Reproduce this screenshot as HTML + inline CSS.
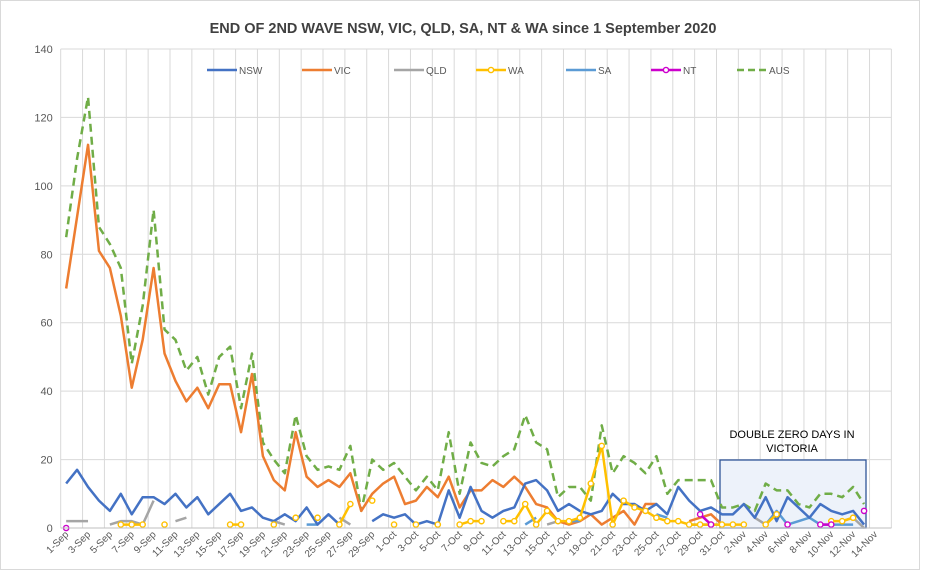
<!DOCTYPE html>
<html><head><meta charset="utf-8">
<style>
html,body{margin:0;padding:0;background:#fff;}
svg{display:block;font-family:"Liberation Sans",sans-serif;}
</style></head>
<body>
<svg id="chart" width="925" height="573" viewBox="0 0 925 573" xmlns="http://www.w3.org/2000/svg">
  <rect x="0.5" y="0.5" width="919" height="569" fill="#fff" stroke="#d9d9d9"/>
  <text x="463" y="33" text-anchor="middle" font-size="14.5" font-weight="bold" fill="#404040">END OF 2ND WAVE NSW, VIC, QLD, SA, NT &amp; WA since 1 September 2020</text>
  <g id="grid"></g>
  <rect x="720" y="460" width="146" height="68" fill="#edf2fa" stroke="#2f5597" stroke-width="1.3"/>
  <g id="series"></g>
  <g id="axes"></g>
  <text x="792" y="438" text-anchor="middle" font-size="11" fill="#000">DOUBLE ZERO DAYS IN</text>
  <text x="792" y="452" text-anchor="middle" font-size="11" fill="#000">VICTORIA</text>
  <g id="legend"></g>
</svg>
<script>
const categories = ["1-Sep","2-Sep","3-Sep","4-Sep","5-Sep","6-Sep","7-Sep","8-Sep","9-Sep","10-Sep","11-Sep","12-Sep","13-Sep","14-Sep","15-Sep","16-Sep","17-Sep","18-Sep","19-Sep","20-Sep","21-Sep","22-Sep","23-Sep","24-Sep","25-Sep","26-Sep","27-Sep","28-Sep","29-Sep","30-Sep","1-Oct","2-Oct","3-Oct","4-Oct","5-Oct","6-Oct","7-Oct","8-Oct","9-Oct","10-Oct","11-Oct","12-Oct","13-Oct","14-Oct","15-Oct","16-Oct","17-Oct","18-Oct","19-Oct","20-Oct","21-Oct","22-Oct","23-Oct","24-Oct","25-Oct","26-Oct","27-Oct","28-Oct","29-Oct","30-Oct","31-Oct","1-Nov","2-Nov","3-Nov","4-Nov","5-Nov","6-Nov","7-Nov","8-Nov","9-Nov","10-Nov","11-Nov","12-Nov","13-Nov","14-Nov"];
const yTicks = [0,20,40,60,80,100,120,140];
const N = null;
const nswValues = [13,17,12,8,5,10,4,9,9,7,10,6,9,4,7,10,5,6,3,2,4,2,6,1,4,1,N,N,2,4,3,4,1,2,1,11,3,12,5,3,5,6,13,14,11,5,7,5,4,5,10,7,7,5,7,4,12,8,5,6,4,4,7,3,9,2,9,6,3,7,5,4,5,1];
const vicValues = [70,91,112,81,76,62,41,55,76,51,43,37,41,35,42,42,28,45,21,14,11,28,15,12,14,12,16,5,10,13,15,7,8,12,9,15,6,11,11,14,12,15,12,7,6,2,1,2,4,1,3,5,1,7,7,N,N,2,3,4,1,N,N,N,N,N,N,N,N,N,N,N,N,N];
const qldValues = [2,2,2,N,1,2,2,1,8,N,2,3,N,N,N,N,N,N,N,2,1,N,N,N,N,3,1,N,N,N,N,N,N,N,N,N,N,N,N,N,N,N,N,N,1,2,N,N,N,N,N,N,N,N,N,N,N,N,N,N,N,N,N,3,1,N,N,N,N,N,N,2,3,0];
const waValues = [N,N,N,N,N,1,1,1,N,1,N,N,N,N,N,1,1,N,N,1,N,3,N,3,N,1,7,N,8,N,1,N,1,N,1,N,1,2,2,N,2,2,7,1,5,2,2,3,13,24,1,8,6,5,3,2,2,1,1,1,1,1,1,N,1,4,N,N,N,N,2,2,3,N];
const saValues = [N,N,N,N,N,N,N,N,N,N,N,N,N,N,N,N,N,N,N,N,N,N,1,1,N,N,N,N,N,N,N,N,N,N,N,N,N,N,N,N,N,N,1,3,N,N,2,2,N,N,N,N,N,N,4,3,N,1,1,1,1,N,N,N,1,5,1,2,3,1,1,1,1,N];
const ntValues = [0,N,N,N,N,N,N,N,N,N,N,N,N,N,N,N,N,N,N,N,N,N,N,N,N,N,N,N,N,N,N,N,N,N,N,N,N,N,N,N,N,N,N,N,N,N,N,N,N,N,N,N,N,N,N,N,N,N,4,1,N,N,N,N,N,N,1,N,N,1,1,N,N,5];
const ausValues = [85,108,126,88,83,76,48,65,93,58,55,46,50,39,50,53,35,51,25,20,16,33,21,17,18,17,24,5,20,17,19,15,11,15,11,28,10,25,19,18,21,23,33,25,23,9,12,12,8,30,16,21,19,16,21,10,14,14,14,14,6,6,7,5,13,11,11,7,6,10,10,9,12,7];

const NS = "http://www.w3.org/2000/svg";
const PL = 60.7, PT = 49, PB = 528, CW = 10.93, NCAT = 76, YMAX = 140;
const PR = PL + CW * NCAT;
function xPos(i){ return PL + CW/2 + CW*i; }
function yPos(v){ return PB - v*(PB-PT)/YMAX; }
function mk(tag, attrs, parent){ const e=document.createElementNS(NS,tag); for(const k in attrs) e.setAttribute(k,attrs[k]); parent.appendChild(e); return e; }

const grid = document.getElementById('grid');
yTicks.forEach(t=>{
  const l = mk('line',{x1:PL,x2:PR,y1:yPos(t),y2:yPos(t),stroke:'#d9d9d9','stroke-width':1},grid);
  
  
});
for(let k=1;k<=NCAT/2;k++){
  const x = PL + 2*CW*k;
  const l = mk('line',{x1:x,x2:x,y1:PT,y2:PB,stroke:'#d9d9d9','stroke-width':1},grid);
  
  
}

const axes = document.getElementById('axes');
const xa = mk('line',{x1:PL,x2:PR,y1:PB,y2:PB,stroke:'#bfbfbf','stroke-width':1},axes);


const ya = mk('line',{x1:PL,x2:PL,y1:PT,y2:PB,stroke:'#d9d9d9','stroke-width':1},axes);


yTicks.forEach(t=>{
  const tx = mk('text',{x:PL-8,y:yPos(t)+4,'text-anchor':'end','font-size':11,fill:'#595959'},axes);
  tx.textContent = t;
  
  
});
categories.forEach((c,i)=>{
  if(i%2) return;
  const x = xPos(i)+3, y = PB+7;
  const tx = mk('text',{x:x,y:y,'text-anchor':'end','font-size':10,fill:'#595959',transform:`rotate(-45 ${x} ${y})`},axes);
  tx.textContent = c;
  
  
});

const seriesLayer = document.getElementById('series');
function drawSeries(vals, color, name, opts){
  opts = opts||{};
  let seg = [];
  const segs = [];
  vals.forEach((v,i)=>{ if(v===null){ if(seg.length) segs.push(seg); seg=[]; } else seg.push([xPos(i),yPos(v)]); });
  if(seg.length) segs.push(seg);
  segs.forEach(s=>{
    if(s.length<2) return;
    const p = mk('polyline',{points:s.map(q=>q.join(',')).join(' '),fill:'none',stroke:color,'stroke-width':opts.w||2.5,'stroke-linejoin':'round','stroke-dasharray':opts.dash||'none'},seriesLayer);
    
    
  });
  if(opts.marker){
    vals.forEach((v,i)=>{
      if(v===null) return;
      const c = mk('circle',{cx:xPos(i),cy:yPos(v),r:2.6,fill:'#fff',stroke:color,'stroke-width':1.4},seriesLayer);
      
      
    });
  }
}
drawSeries(ausValues,'#70ad47','aus',{dash:'8 5'});
drawSeries(vicValues,'#ed7d31','vic');
drawSeries(qldValues,'#a5a5a5','qld');
drawSeries(saValues,'#5b9bd5','sa');
drawSeries(nswValues,'#4472c4','nsw');
drawSeries(waValues,'#ffc000','wa',{marker:true});
drawSeries(ntValues,'#cc00cc','nt',{marker:true});

const legend = document.getElementById('legend');
const legendItems = [["NSW","#4472c4",207,0,0],["VIC","#ed7d31",302,0,0],["QLD","#a5a5a5",394,0,0],["WA","#ffc000",476,1,0],["SA","#5b9bd5",566,0,0],["NT","#cc00cc",651,1,0],["AUS","#70ad47",737,0,1]];
legendItems.forEach(it=>{
  const g = mk('g',{},legend);
  
  
  mk('line',{x1:it[2],x2:it[2]+30,y1:70,y2:70,stroke:it[1],'stroke-width':2.5,'stroke-dasharray':it[4]?'7 4':'none'},g);
  if(it[3]) mk('circle',{cx:it[2]+15,cy:70,r:2.6,fill:'#fff',stroke:it[1],'stroke-width':1.4},g);
  const t = mk('text',{x:it[2]+32,y:74,'font-size':10,fill:'#595959'},g);
  t.textContent = it[0];
});
</script>
</body></html>
